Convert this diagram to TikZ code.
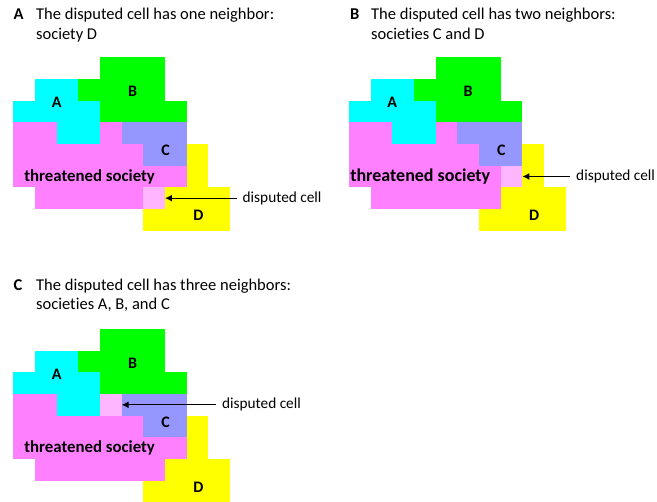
\documentclass[tikz,border=0pt]{standalone}
\usepackage{fontspec}
\setmainfont{Carlito}[Ligatures=NoCommon]
\usetikzlibrary{arrows.meta,positioning}

\definecolor{socA}{RGB}{0,255,255}
\definecolor{socB}{RGB}{0,255,0}
\definecolor{socC}{RGB}{150,150,255}
\definecolor{socD}{RGB}{255,255,0}
\definecolor{threat}{RGB}{255,128,255}
\definecolor{disp}{RGB}{255,182,255}

% one row of cells: colour, row, first col, last col
\newcommand{\band}[4]{\fill[#1] (#3,#2) rectangle ({#4+1},{#2+1});}
% cells and labels shared by all three panels
\newcommand{\basemap}[1]{%
  \band{socB}{0}{4}{6}\band{socB}{1}{3}{6}\band{socB}{2}{4}{7}
  \band{socA}{1}{1}{2}\band{socA}{2}{0}{3}\band{socA}{3}{2}{3}
  \band{socC}{3}{5}{7}\band{socC}{4}{6}{7}
  \band{socD}{4}{8}{8}\band{socD}{5}{8}{8}\band{socD}{6}{7}{9}\band{socD}{7}{6}{9}
  \band{threat}{3}{0}{1}\band{threat}{4}{0}{5}\band{threat}{5}{0}{6}\band{threat}{6}{1}{5}
  \node[tag] (#1a) at (2,2.1) {A};
  \node[tag] (#1b) at (5.5,1.57) {B};
  \node[tag] (#1c) at (7.03,4.3) {C};
  \node[tag] (#1d) at (8.54,7.3) {D};
}

\begin{document}
\begin{tikzpicture}[x=1pt,y=-1pt,
  head/.style={anchor=base west,inner sep=0,font=\bfseries\fontsize{16.5}{19.3}\selectfont},
  title/.style={anchor=base west,inner sep=0,align=left,font=\fontsize{16.5}{19.3}\selectfont},
  tag/.style={inner sep=0,font=\bfseries\fontsize{16}{16}\selectfont},
  soc/.style={inner sep=0,anchor=west,font=\bfseries\fontsize{16.8}{17}\selectfont},
  note/.style={inner xsep=6pt,inner ysep=0,anchor=west,font=\fontsize{15.3}{16}\selectfont},
  arr/.style={-{Latex[length=7pt,width=7pt]},line width=1.3pt}]
\useasboundingbox (0,0) rectangle (657,502);

% panel A (title node sits on its last baseline)
\node[head] (hA) at (13.3,20) {A};
\node[title] (tA) at (36,39.3) {The disputed cell has one neighbor:\\society D};
\begin{scope}[shift={(13.3,57.3)},x=21.67pt,y=-21.67pt]
\basemap{pa}
\band{threat}{3}{4}{4}\band{threat}{5}{7}{7}
\band{disp}{6}{6}{6}
\node[soc] (socA) at (0.5,5.5) {threatened society};
\coordinate (dispA) at (7,6.5);
\node[note] (noteA) at (10.3,6.5) {disputed cell};
\draw[arr] (noteA) -- (dispA);
\end{scope}

% panel B
\node[head] (hB) at (350,20) {B};
\node[title] (tB) at (371,39.3) {The disputed cell has two neighbors:\\societies C and D};
\begin{scope}[shift={(349,57.3)},x=21.67pt,y=-21.67pt]
\basemap{pb}
\band{threat}{3}{4}{4}\band{threat}{6}{6}{6}
\band{disp}{5}{7}{7}
\node[soc,font=\bfseries\fontsize{18}{18}\selectfont] (socB) at (0.05,5.5) {threatened society};
\coordinate (dispB) at (8,5.5);
\node[note] (noteB) at (10.2,5.5) {disputed cell};
\draw[arr] (noteB) -- (dispB);
\end{scope}

% panel C
\node[head] (hC) at (13.3,290.7) {C};
\node[title] (tC) at (36,310) {The disputed cell has three neighbors:\\societies A, B, and C};
\begin{scope}[shift={(13.3,329)},x=21.67pt,y=-21.67pt]
\basemap{pc}
\band{threat}{5}{7}{7}\band{threat}{6}{6}{6}
\band{disp}{3}{4}{4}
\node[soc] (socC) at (0.5,5.5) {threatened society};
\coordinate (dispC) at (5,3.5);
\node[note] (noteC) at (9.35,3.5) {disputed cell};
\draw[arr] (noteC) -- (dispC);
\end{scope}
\end{tikzpicture}
\end{document}
